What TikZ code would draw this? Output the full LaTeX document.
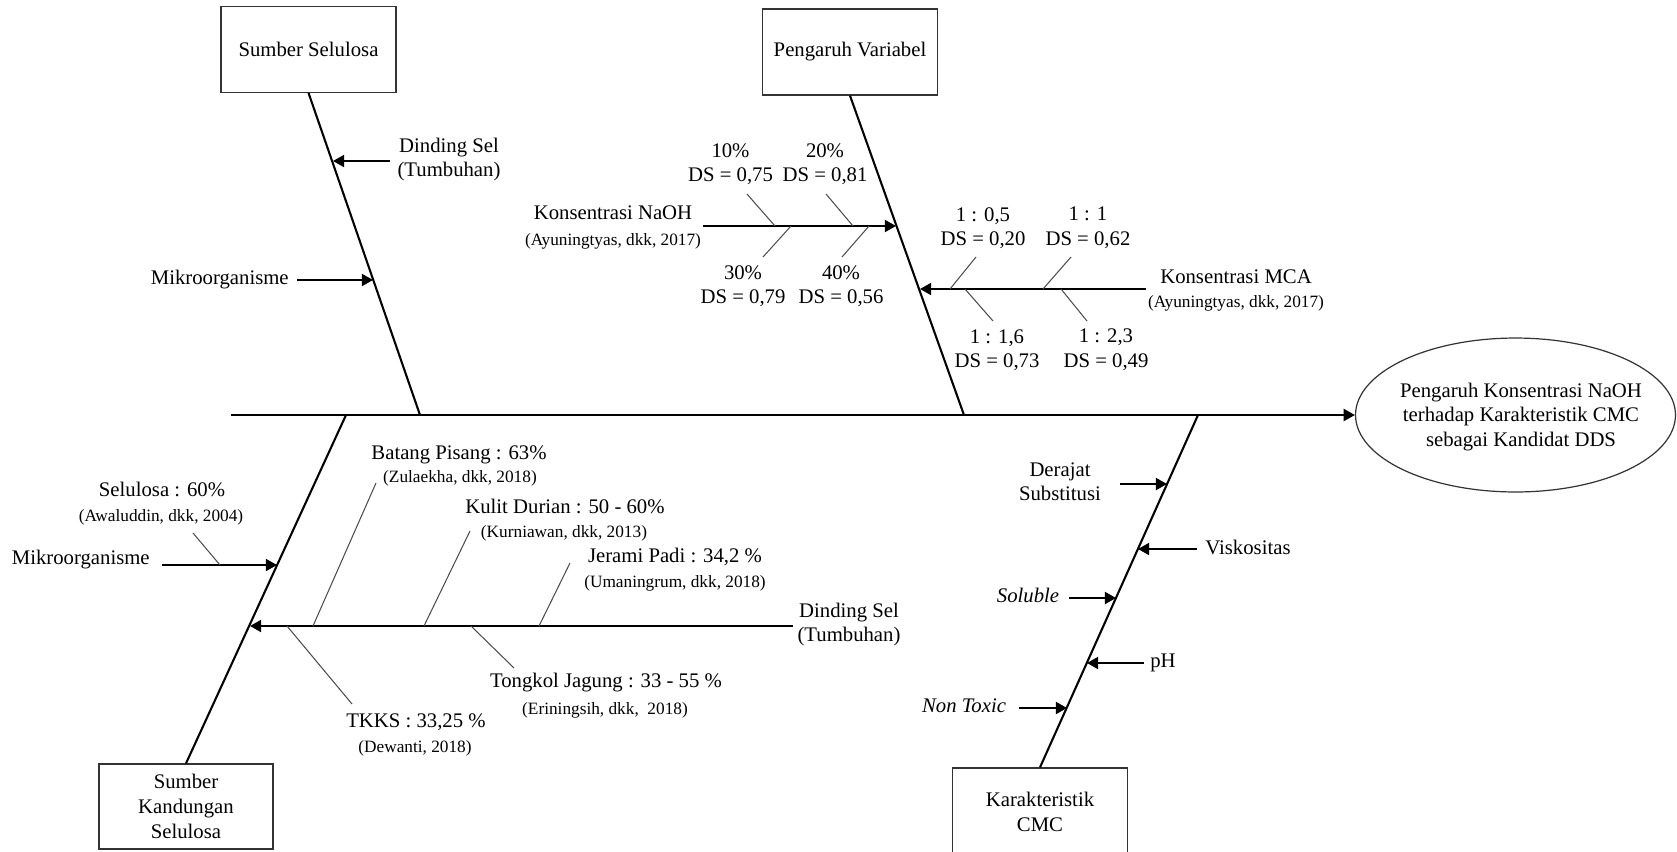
\documentclass[tikz,border=0pt]{standalone}
\usepackage{fontspec}
\setmainfont{Liberation Serif}
\usetikzlibrary{arrows.meta,shapes.geometric}
\begin{document}
\begin{tikzpicture}[x=0.5788pt,y=-0.5788pt,
  bone/.style={line width=1.2pt,black},
  arr/.style={line width=1.2pt,black,-{Triangle[length=6.5pt,width=7pt]}},
  tickline/.style={line width=0.6pt,black!70},
  box/.style={draw=black!80,line width=0.7pt,minimum width=101.3pt,minimum height=49.5pt,inner sep=0pt,align=center,font=\fontsize{12}{14.5}\selectfont},
  lbl/.style={inner sep=0pt,align=center,font=\fontsize{12}{14.2}\selectfont},
  cite/.style={inner sep=0pt,align=center,font=\fontsize{10}{12}\selectfont}
]
\useasboundingbox (0,0) rectangle (1677,851);

% ---------- spine and effect ----------
\node[ellipse,draw=black!80,line width=0.7pt,minimum width=185.2pt,minimum height=89.1pt,inner sep=0pt] (eff) at (1515.5,415) {};
\node[lbl] (efft) at (1521,417) {Pengaruh Konsentrasi NaOH\\terhadap Karakteristik CMC\\sebagai Kandidat DDS};
\coordinate (sp0) at (231,415);
\draw[arr] (sp0) -- (eff.west);

% ---------- upper left bone ----------
\node[box] (b1) at (308.5,49.5) {Sumber Selulosa};
\coordinate (s1) at (420,415);
\draw[bone] (b1.south) -- (s1);
\coordinate (a1s) at (390,161); \coordinate (a1e) at (333,161);
\draw[arr] (a1s) -- (a1e);
\node[lbl] (l1) at (449,159.5) {Dinding Sel\\(Tumbuhan)};
\coordinate (a2s) at (297,280); \coordinate (a2e) at (373,280);
\draw[arr] (a2s) -- (a2e);
\node[lbl,anchor=east] (l2) at (289,280) {Mikroorganisme};

% ---------- upper middle bone ----------
\node[box,minimum height=49.8pt] (b2) at (850,52) {Pengaruh Variabel};
\coordinate (s2) at (964,415);
\draw[bone] (b2.south) -- (s2);
\coordinate (n0) at (703,226); \coordinate (n1) at (896,226);
\draw[arr] (n0) -- (n1);
\node[lbl] (naoh) at (613,213) {Konsentrasi NaOH};
\node[cite] (naohc) at (613,241) {(Ayuningtyas, dkk, 2017)};
\coordinate (k1a) at (747,194); \coordinate (k1b) at (775,226);
\coordinate (k2a) at (826,194); \coordinate (k2b) at (853,226);
\coordinate (k3a) at (791,226); \coordinate (k3b) at (763,257);
\coordinate (k4a) at (869,226); \coordinate (k4b) at (842,257);
\draw[tickline] (k1a) -- (k1b);
\draw[tickline] (k2a) -- (k2b);
\draw[tickline] (k3a) -- (k3b);
\draw[tickline] (k4a) -- (k4b);
\node[lbl] (p10) at (730.5,164) {10\%\\DS = 0,75};
\node[lbl] (p20) at (825,164) {20\%\\DS = 0,81};
\node[lbl] (p30) at (743,286) {30\%\\DS = 0,79};
\node[lbl] (p40) at (841,286) {40\%\\DS = 0,56};

\coordinate (m0) at (1146,289); \coordinate (m1) at (920,289);
\draw[arr] (m0) -- (m1);
\node[lbl] (mca) at (1236,277) {Konsentrasi MCA};
\node[cite] (mcac) at (1236,303) {(Ayuningtyas, dkk, 2017)};
\coordinate (q1a) at (976,257); \coordinate (q1b) at (950,289);
\coordinate (q2a) at (1071,257); \coordinate (q2b) at (1043,289);
\coordinate (q3a) at (965,289); \coordinate (q3b) at (993,321);
\coordinate (q4a) at (1061,289); \coordinate (q4b) at (1087,321);
\draw[tickline] (q1a) -- (q1b);
\draw[tickline] (q2a) -- (q2b);
\draw[tickline] (q3a) -- (q3b);
\draw[tickline] (q4a) -- (q4b);
\node[lbl] (r1) at (983,228) {1 : 0,5\\DS = 0,20};
\node[lbl] (r2) at (1088,227.5) {1 : 1\\DS = 0,62};
\node[lbl] (r3) at (997,350) {1 : 1,6\\DS = 0,73};
\node[lbl] (r4) at (1106,349.5) {1 : 2,3\\DS = 0,49};

% ---------- lower left bone ----------
\node[box,minimum width=100.7pt,minimum height=49.2pt] (b3) at (186,806.5) {Sumber\\Kandungan\\Selulosa};
\coordinate (s3) at (346,415);
\draw[bone] (s3) -- (b3.north);
\coordinate (a3s) at (162,565); \coordinate (a3e) at (277,565);
\draw[arr] (a3s) -- (a3e);
\node[lbl,anchor=east] (l3) at (150,560) {Mikroorganisme};
\node[lbl] (sel) at (162,489) {Selulosa : 60\%};
\node[cite] (selc) at (161,517) {(Awaluddin, dkk, 2004)};
\coordinate (u0a) at (193,533); \coordinate (u0b) at (220,565);
\draw[tickline] (u0a) -- (u0b);

\coordinate (d0) at (793,626); \coordinate (d1) at (250,626);
\draw[arr] (d0) -- (d1);
\node[lbl] (l4) at (849,624.5) {Dinding Sel\\(Tumbuhan)};
\coordinate (u1a) at (376,483); \coordinate (u1b) at (313,626);
\coordinate (u2a) at (470,531); \coordinate (u2b) at (424,626);
\coordinate (u3a) at (570,563); \coordinate (u3b) at (539,626);
\coordinate (u4a) at (471,626); \coordinate (u4b) at (514,668);
\coordinate (u5a) at (287,626); \coordinate (u5b) at (352,704);
\draw[tickline] (u1a) -- (u1b);
\draw[tickline] (u2a) -- (u2b);
\draw[tickline] (u3a) -- (u3b);
\draw[tickline] (u4a) -- (u4b);
\draw[tickline] (u5a) -- (u5b);
\node[lbl] (bp) at (459,455) {Batang Pisang : 63\%};
\node[cite] (bpc) at (460,478) {(Zulaekha, dkk, 2018)};
\node[lbl] (kd) at (565,506) {Kulit Durian : 50 - 60\%};
\node[cite] (kdc) at (564,533) {(Kurniawan, dkk, 2013)};
\node[lbl] (jp) at (675,557) {Jerami Padi : 34,2 \%};
\node[cite] (jpc) at (675,583) {(Umaningrum, dkk, 2018)};
\node[lbl] (tj) at (606,683) {Tongkol Jagung : 33 - 55 \%};
\node[cite] (tjc) at (605,710) {(Eriningsih, dkk,\ \ 2018)};
\node[lbl] (tk) at (416,722) {TKKS : 33,25 \%};
\node[cite] (tkc) at (415,748) {(Dewanti, 2018)};

% ---------- lower right bone ----------
\node[box,minimum height=51pt] (b4) at (1040,812) {Karakteristik\\CMC};
\coordinate (s4) at (1198,415);
\draw[bone] (s4) -- (b4.north);
\coordinate (c1s) at (1120,484); \coordinate (c1e) at (1167,484);
\coordinate (c2s) at (1197,549); \coordinate (c2e) at (1138,549);
\coordinate (c3s) at (1069,598); \coordinate (c3e) at (1116,598);
\coordinate (c4s) at (1144,663); \coordinate (c4e) at (1087,663);
\coordinate (c5s) at (1019,708); \coordinate (c5e) at (1067,708);
\draw[arr] (c1s) -- (c1e);
\draw[arr] (c2s) -- (c2e);
\draw[arr] (c3s) -- (c3e);
\draw[arr] (c4s) -- (c4e);
\draw[arr] (c5s) -- (c5e);
\node[lbl] (ds) at (1060,481.5) {Derajat\\Substitusi};
\node[lbl] (vk) at (1248,547) {Viskositas};
\node[lbl] (so) at (1028,595) {\textit{Soluble}};
\node[lbl] (ph) at (1163,663) {pH};
\node[lbl] (nt) at (964,706) {\textit{Non Toxic}};
\end{tikzpicture}
\end{document}
